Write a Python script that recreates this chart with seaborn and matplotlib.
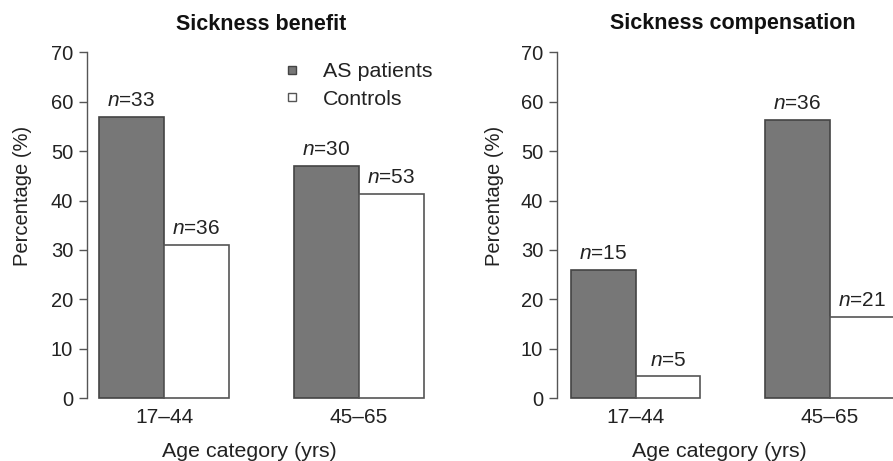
import pandas as pd
import numpy as np
import matplotlib
matplotlib.use("Agg")
import matplotlib.pyplot as plt
from matplotlib.lines import Line2D
import seaborn as sns

# data
ages = ["17–44", "45–65"]
groups = ["AS patients", "Controls"]

benefit_as = [57.0, 47.0]
benefit_ctrl = [31.0, 41.4]
benefit_n_as = [33, 30]
benefit_n_ctrl = [36, 53]

comp_as = [25.9, 56.3]
comp_ctrl = [4.4, 16.4]
comp_n_as = [15, 36]
comp_n_ctrl = [5, 21]

FILL = {"AS patients": "#777777", "Controls": "white"}
EDGE = {"AS patients": "#444444", "Controls": "#555555"}

sns.set_style("white")
plt.rcParams["font.family"] = ["Liberation Sans", "DejaVu Sans"]
plt.rcParams["mathtext.fontset"] = "custom"
plt.rcParams["mathtext.rm"] = "Liberation Sans"
plt.rcParams["mathtext.it"] = "Liberation Sans:italic"

W, H = 893, 461
fig = plt.figure(figsize=(W / 100, H / 100), dpi=100)


def px_axes(left, right, top, bottom):
    return fig.add_axes([left / W, 1 - bottom / H, (right - left) / W, (bottom - top) / H])


def make_df(as_vals, ctrl_vals):
    return pd.DataFrame({
        "age": ages * 2,
        "group": [groups[0]] * 2 + [groups[1]] * 2,
        "pct": list(as_vals) + list(ctrl_vals),
    })


def draw_panel(ax, as_vals, ctrl_vals, n_as, n_ctrl, xlim):
    df = make_df(as_vals, ctrl_vals)
    sns.barplot(data=df, x="age", y="pct", hue="group", hue_order=groups,
                palette=FILL, width=0.667, linewidth=1.2, legend=False, ax=ax)
    for cont, g in zip(ax.containers, groups):
        for p in cont:
            p.set_edgecolor(EDGE[g])
    for cont, ns in zip(ax.containers, [n_as, n_ctrl]):
        ax.bar_label(cont, labels=[r"$\mathit{n}$=%d" % n for n in ns],
                     padding=5, fontsize=15, color="#222222")
    ax.set_ylim(-0.3, 70.3)
    ax.set_xlim(*xlim)
    ax.set_yticks(np.arange(0, 71, 10))
    ax.tick_params(axis="y", direction="out", length=6, width=1, color="#555555",
                   pad=4, labelsize=14.5, labelcolor="#222222", left=True)
    ax.tick_params(axis="x", length=0, pad=6, labelsize=15, labelcolor="#222222")
    for s in ["top", "right", "bottom"]:
        ax.spines[s].set_visible(False)
    ax.spines["left"].set_bounds(0, 70)
    ax.spines["left"].set_color("#555555")
    ax.spines["left"].set_linewidth(1)
    ax.set_xlabel("")
    ax.set_ylabel("")
    ax.patch.set_alpha(0)


# left panel: sickness benefit
ax1 = px_axes(87, 435, 50.8, 399.7)
draw_panel(ax1, benefit_as, benefit_ctrl, benefit_n_as, benefit_n_ctrl, (-0.395, 1.39))

# right panel: sickness compensation (clipped at the right edge like the source)
ax2 = px_axes(557, 893, 50.8, 399.7)
draw_panel(ax2, comp_as, comp_ctrl, comp_n_as, comp_n_ctrl, (-0.405, 1.325))

# titles, axis labels
fig.text(261 / W, 1 - 24 / H, "Sickness benefit", ha="center", va="center",
         fontsize=15.5, fontweight="bold", color="#111111")
fig.text(732.5 / W, 1 - 24 / H, "Sickness compensation", ha="center", va="center",
         fontsize=15.5, fontweight="bold", color="#111111")
for xc in [23, 495]:
    fig.text(xc / W, 1 - 196 / H, "Percentage (%)", rotation=90, ha="center",
             va="center", fontsize=14.5, color="#222222")
for xc in [249.5, 719.5]:
    fig.text(xc / W, 4 / H, "Age category (yrs)", ha="center", va="baseline",
             fontsize=15.4, color="#222222")

# legend
handles = [Line2D([], [], marker="s", linestyle="none", markersize=6.2,
                  markerfacecolor=FILL[g], markeredgecolor=EDGE[g], markeredgewidth=1)
           for g in groups]
ax1.legend(handles, groups, loc="upper left", frameon=False, fontsize=15.4,
           borderpad=0, borderaxespad=0, handlelength=1, handletextpad=0.92,
           labelspacing=0.4, labelcolor="#222222",
           bbox_to_anchor=(281.5 / W, 1 - 62 / H), bbox_transform=fig.transFigure)

fig.savefig("out.png", dpi=100)
